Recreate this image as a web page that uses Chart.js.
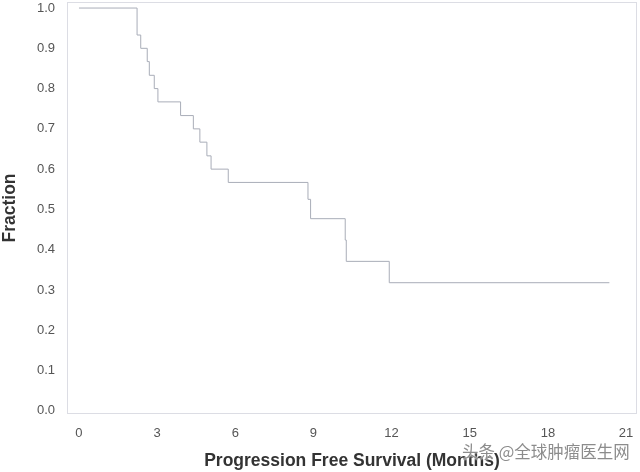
<!DOCTYPE html>
<html>
<head>
<meta charset="utf-8">
<script src="https://cdn.jsdelivr.net/npm/chart.js@4"></script>
<style>
    html, body { margin: 0; padding: 0; background: #fff; }
    #wrap { position: relative; width: 640px; height: 472px; }
    #watermark {
        position: absolute; left: 462px; top: 439px;
        font-family: "Noto Sans CJK SC", sans-serif; font-size: 16.5px;
        color: #8c8c8c; text-shadow: 0 0 2px #fff, 0 0 2px #fff;
        white-space: nowrap;
    }
</style>
</head>
<body>
<div id="wrap">
    <canvas id="pfsChart" width="640" height="472"></canvas>
    <div id="watermark">头条 @全球肿瘤医生网</div>
</div>
<script>
// survival curve
const months = [0, 2.23, 2.37, 2.62, 2.70, 2.89, 3.03, 3.90, 4.39, 4.64, 4.91, 5.07, 5.73, 8.79, 8.89, 10.22, 10.26, 11.91, 20.36];
const fraction = [1.0, 0.933, 0.900, 0.867, 0.833, 0.800, 0.767, 0.733, 0.700, 0.667, 0.633, 0.600, 0.567, 0.525, 0.477, 0.424, 0.371, 0.318, 0.318];

const xTicks = [0, 3, 6, 9, 12, 15, 18, 21];
const yTicks = [0, 0.1, 0.2, 0.3, 0.4, 0.5, 0.6, 0.7, 0.8, 0.9, 1.0];

const frameColor = '#dcdde4';

// box round the plot area
const frameBox = {
    id: 'frameBox',
    afterDraw(chart) {
        const a = chart.chartArea;
        const ctx = chart.ctx;
        ctx.save();
        ctx.strokeStyle = frameColor;
        ctx.lineWidth = 1;
        ctx.strokeRect(a.left + 0.5, a.top + 0.5, a.right - a.left - 1, a.bottom - a.top - 1);
        ctx.restore();
    }
};

new Chart(document.getElementById('pfsChart'), {
    type: 'line',
    data: {
        datasets: [{
            data: months.map((m, i) => ({ x: m, y: fraction[i] })),
            stepped: true,
            borderColor: '#a9adb8',
            borderWidth: 1,
            pointRadius: 0,
            fill: false
        }]
    },
    options: {
        responsive: false,
        animation: false,
        layout: { autoPadding: false, padding: { top: 2, right: 3, left: 0, bottom: 0 } },
        plugins: { legend: { display: false }, tooltip: { enabled: false } },
        scales: {
            x: {
                type: 'linear',
                min: -0.46,
                max: 21.42,
                afterBuildTicks: axis => { axis.ticks = xTicks.map(v => ({ value: v })); },
                afterFit: axis => {
                    axis.height = 58;
                    axis.paddingLeft = 0;
                    axis.paddingRight = 0;
                },
                grid: { display: false, drawTicks: true, tickLength: 5, color: frameColor },
                border: { display: false },
                ticks: {
                    color: '#555',
                    font: { family: 'Liberation Sans, Arial', size: 13 },
                    padding: 7,
                    maxRotation: 0
                },
                title: {
                    display: true,
                    text: 'Progression Free Survival (Months)',
                    color: '#333',
                    font: { family: 'Liberation Sans, Arial', size: 17.5, weight: 'bold' },
                    padding: { top: 4, bottom: 0 }
                }
            },
            y: {
                min: -0.008,
                max: 1.015,
                afterBuildTicks: axis => { axis.ticks = yTicks.map(v => ({ value: v })); },
                afterFit: axis => {
                    axis.width = 67;
                    axis.paddingTop = 0;
                    axis.paddingBottom = 0;
                },
                grid: { display: false, drawTicks: true, tickLength: 5, color: frameColor },
                border: { display: false },
                ticks: {
                    color: '#555',
                    font: { family: 'Liberation Sans, Arial', size: 13 },
                    padding: 7,
                    callback: v => v.toFixed(1)
                },
                title: {
                    display: true,
                    text: 'Fraction',
                    color: '#333',
                    font: { family: 'Liberation Sans, Arial', size: 17.5, weight: 'bold' },
                    padding: { top: 0, bottom: 0 }
                }
            }
        }
    },
    plugins: [frameBox]
});
</script>
</body>
</html>
